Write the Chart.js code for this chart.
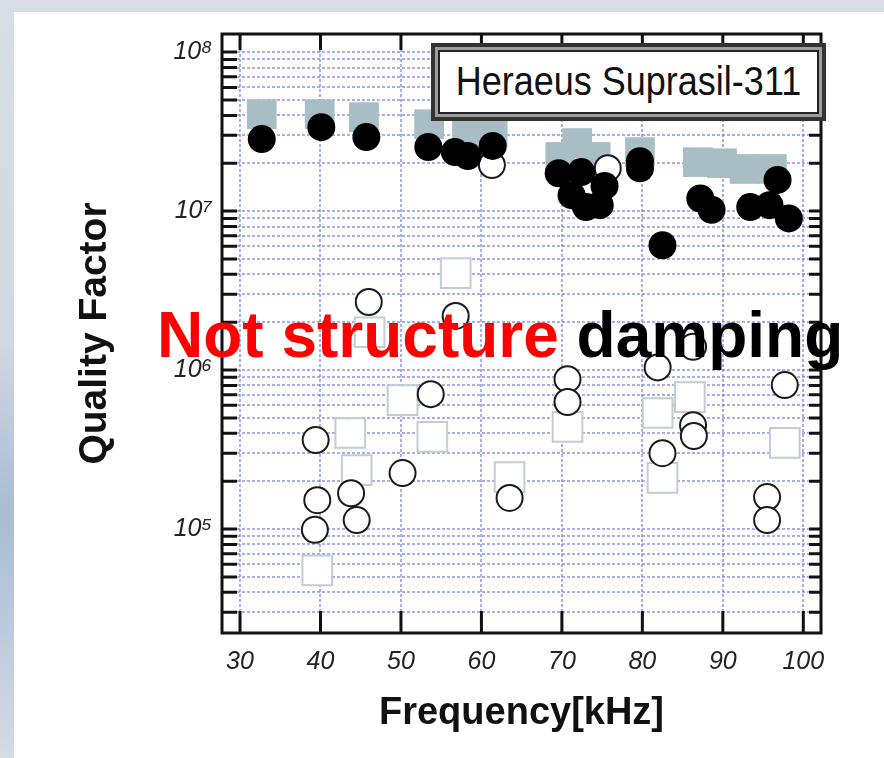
<!DOCTYPE html>
<html>
<head>
<meta charset="utf-8">
<script src="https://cdn.jsdelivr.net/npm/chart.js@4.4.0/dist/chart.umd.min.js"></script>
<style>
  html, body { margin: 0; padding: 0; }
  body {
    width: 884px; height: 758px; overflow: hidden; position: relative;
    background: linear-gradient(to bottom, #d6dde7 0%, #cfd8e4 45%, #a9bcd2 68%, #b8c8da 80%, #d2dbe6 100%);
    font-family: 'Liberation Sans', Arial, sans-serif;
  }
  #panel { position: absolute; left: 14px; top: 12px; right: 0; bottom: 0; background: #fff; }
  #chart { position: absolute; left: 0; top: 0; }
  #sampleBox {
    position: absolute; left: 431px; top: 43px; width: 381px; height: 64px;
    border: 4px solid #333; background: #9c9c9c; padding: 3px; box-sizing: content-box;
  }
  #sampleBox div {
    width: 100%; height: 100%; box-sizing: border-box; border: 2px solid #222; background: #fff;
    display: flex; align-items: center; justify-content: center;
    font-size: 36px; color: #111; white-space: nowrap;
  }
  #sampleBox span { display: inline-block; transform: scaleY(1.12); }
  #note {
    position: absolute; left: 157px; top: 303px; font-size: 64px; line-height: 64px;
    font-weight: bold; white-space: nowrap; color: #000;
  }
  #note .red { color: #ff0000; }
</style>
</head>
<body>
<div id="panel"></div>
<canvas id="chart" width="884" height="758"></canvas>
<div id="sampleBox"><div><span>Heraeus Suprasil-311</span></div></div>
<div id="note"><span class="red">Not structure</span> damping</div>
<script>
// values (frequency in kHz, quality factor)
const filledFreq = [32.7, 40.1, 45.7, 53.4, 56.7, 58.3, 61.4, 69.6, 72.4, 71.2, 73.0, 74.7, 75.3,
                    79.7, 79.7, 82.5, 87.2, 88.6, 93.4, 95.8, 96.8, 98.2];
const filledQ = [2.84e7, 3.37e7, 2.92e7, 2.53e7, 2.35e7, 2.22e7, 2.57e7, 1.73e7, 1.76e7, 1.26e7, 1.06e7, 1.09e7, 1.44e7,
                 2.06e7, 1.86e7, 6.1e6, 1.2e7, 1.02e7, 1.06e7, 1.09e7, 1.57e7, 9.0e6];

const greyFreq = [32.7, 39.9, 45.4, 53.5, 58.2, 61.4, 69.8, 71.9, 74.2, 79.7, 86.9, 89.9, 92.7, 96.1];
const greyQ = [4.07e7, 4.07e7, 3.9e7, 3.52e7, 3.14e7, 3.14e7, 2.19e7, 2.68e7, 2.19e7, 2.35e7, 2.03e7, 2.0e7, 1.84e7, 1.84e7];

const openFreq = [46.0, 56.8, 53.7, 39.4, 50.2, 39.6, 43.8, 44.5, 39.3, 63.5, 70.7, 70.7, 81.9,
                  86.3, 86.3, 86.4, 82.5, 97.7, 95.5, 95.5, 61.3, 75.7];
const openQ = [2.68e6, 2.19e6, 7.06e5, 3.63e5, 2.25e5, 1.52e5, 1.68e5, 1.14e5, 9.9e4, 1.57e5, 8.77e5, 6.3e5, 1.04e6,
               1.4e6, 4.5e5, 3.85e5, 3.0e5, 8.05e5, 1.59e5, 1.14e5, 1.95e7, 1.86e7];

const openSqFreq = [56.8, 46.1, 50.2, 43.7, 53.9, 44.5, 39.6, 63.5, 70.7, 81.9, 85.9, 82.5, 97.7];
const openSqQ = [4.07e6, 1.73e6, 6.47e5, 4.02e5, 3.8e5, 2.35e5, 5.5e4, 2.12e5, 4.39e5, 5.37e5, 6.76e5, 2.1e5, 3.48e5];

const xTickValues = [30, 40, 50, 60, 70, 80, 90, 100];
const yDecades = [1e5, 1e6, 1e7, 1e8];
const yDecadeLabels = ['10⁵', '10⁶', '10⁷', '10⁸'];
const yMinorSteps = [1, 2, 3, 4, 5, 6, 7, 8, 9];

const xMin = 27.76, xMax = 102.2;
const yMin = 2.22e4, yMax = 1.3e8;

function pairs(xs, ys) {
  return xs.map((x, i) => ({ x: x, y: ys[i] }));
}

const yTickValues = [];
for (let e = 4; e <= 8; e++) {
  yMinorSteps.forEach(m => {
    const v = m * Math.pow(10, e);
    if (v >= yMin && v <= yMax) yTickValues.push(v);
  });
}

// black frame with inward tick marks on all four sides
const frameTicks = {
  id: 'frameTicks',
  afterDraw(chart) {
    const { ctx, chartArea: a, scales: { x, y } } = chart;
    ctx.save();
    ctx.strokeStyle = '#111';
    ctx.lineWidth = 3;
    ctx.beginPath();
    x.ticks.forEach(t => {
      const px = x.getPixelForValue(t.value);
      ctx.moveTo(px, a.bottom); ctx.lineTo(px, a.bottom - 22);
      ctx.moveTo(px, a.top); ctx.lineTo(px, a.top + 16);
    });
    y.ticks.forEach(t => {
      const py = y.getPixelForValue(t.value);
      ctx.moveTo(a.left, py); ctx.lineTo(a.left + 15, py);
      ctx.moveTo(a.right, py); ctx.lineTo(a.right - 12, py);
    });
    ctx.stroke();
    ctx.strokeRect(a.left, a.top, a.right - a.left, a.bottom - a.top);
    ctx.restore();
  }
};

const gridStyle = { color: 'rgba(112, 120, 230, 0.6)', lineWidth: 2, drawTicks: false };
const labelFont = "'Liberation Sans', Arial, sans-serif";

new Chart(document.getElementById('chart'), {
  type: 'scatter',
  data: {
    datasets: [
      {
        label: 'filled circles',
        data: pairs(filledFreq, filledQ),
        pointStyle: 'circle', pointRadius: 14,
        backgroundColor: '#000', borderColor: '#000', borderWidth: 0
      },
      {
        label: 'open circles',
        data: pairs(openFreq, openQ),
        pointStyle: 'circle', pointRadius: 13,
        backgroundColor: '#fff', borderColor: '#1a1a1a', borderWidth: 2
      },
      {
        label: 'grey squares',
        data: pairs(greyFreq, greyQ),
        pointStyle: 'rect', pointRadius: 21,
        backgroundColor: '#a9bdc5', borderColor: '#a9bdc5', borderWidth: 0
      },
      {
        label: 'open squares',
        data: pairs(openSqFreq, openSqQ),
        pointStyle: 'rect', pointRadius: 21,
        backgroundColor: '#fff', borderColor: '#c3cdd1', borderWidth: 2
      }
    ]
  },
  options: {
    responsive: false,
    animation: false,
    events: [],
    layout: { padding: { left: 62, right: 63, top: 34, bottom: 22 } },
    plugins: { legend: { display: false }, tooltip: { enabled: false } },
    scales: {
      x: {
        type: 'linear',
        min: xMin, max: xMax,
        afterBuildTicks: s => { s.ticks = xTickValues.map(v => ({ value: v })); },
        afterFit: s => { s.height = 103; },
        grid: gridStyle,
        border: { display: false, dash: [3, 2] },
        ticks: {
          autoSkip: false, maxRotation: 0, padding: 14, color: '#222',
          font: { family: labelFont, size: 25, style: 'italic' }
        },
        title: {
          display: true, text: 'Frequency[kHz]', color: '#111', padding: { top: 0, bottom: 0 },
          font: { family: labelFont, size: 38, weight: 'bold' }
        }
      },
      y: {
        type: 'logarithmic',
        min: yMin, max: yMax,
        afterBuildTicks: s => { s.ticks = yTickValues.map(v => ({ value: v })); },
        afterFit: s => { s.width = 160; },
        grid: gridStyle,
        border: { display: false, dash: [3, 2] },
        ticks: {
          autoSkip: false, padding: 10, color: '#222',
          font: { family: labelFont, size: 25, style: 'italic' },
          callback: v => {
            const i = yDecades.indexOf(v);
            return i >= 0 ? yDecadeLabels[i] : '';
          }
        },
        title: {
          display: true, text: 'Quality Factor', color: '#111', padding: { top: 10, bottom: 0 },
          font: { family: labelFont, size: 39, weight: 'bold' }
        }
      }
    }
  },
  plugins: [frameTicks]
});
</script>
</body>
</html>
